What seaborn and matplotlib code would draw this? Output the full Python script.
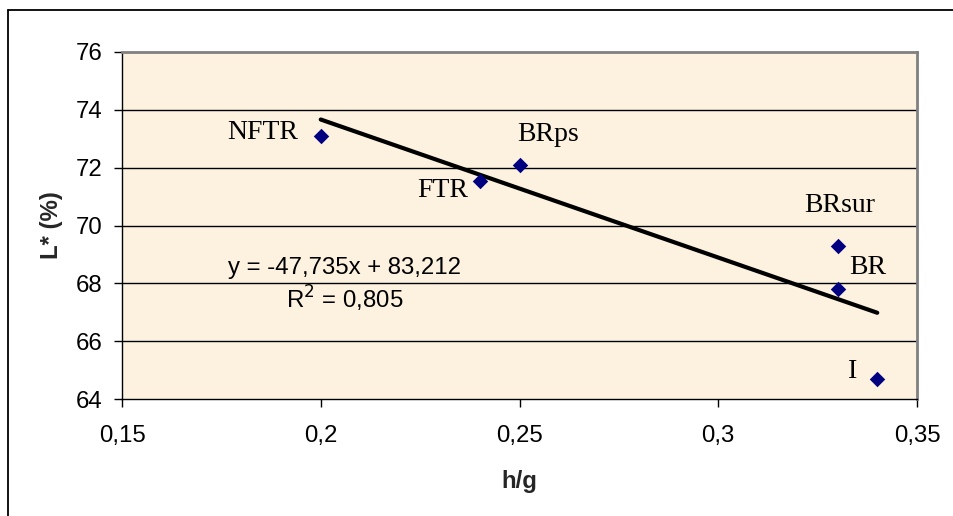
import matplotlib
matplotlib.use("Agg")
import matplotlib.pyplot as plt
from matplotlib.lines import Line2D
import numpy as np
import pandas as pd
import seaborn as sns

# Samples: hue/gray ratio vs lightness
samples = ["NFTR", "FTR", "BRps", "BRsur", "BR", "I"]
hg = [0.20, 0.24, 0.25, 0.33, 0.33, 0.34]
lightness = [73.1, 71.55, 72.1, 69.3, 67.8, 64.7]

# Linear trend (as reported on the chart)
slope = -47.735
intercept = 83.212
r2 = 0.805

x_ticks = [0.15, 0.20, 0.25, 0.30, 0.35]
x_tick_labels = ["0,15", "0,2", "0,25", "0,3", "0,35"]
y_ticks = [64, 66, 68, 70, 72, 74, 76]


def comma(v, nd=3):
    return f"{v:.{nd}f}".replace(".", ",")


df = pd.DataFrame({"sample": samples, "hg": hg, "L": lightness})

sns.set_theme(style="white")
plt.rcParams["font.family"] = ["Liberation Sans", "DejaVu Sans"]

fig = plt.figure(figsize=(9.54, 5.16), dpi=100)
ax = fig.add_axes([122 / 954, 1 - 399 / 516, (917 - 122) / 954, (399 - 52) / 516])
ax.set_facecolor("#FCF2DF")

# Outer chart frame
fig.add_artist(Line2D([8 / 954, 8 / 954], [0, 1 - 10 / 516], transform=fig.transFigure,
                      color="black", lw=1.3))
fig.add_artist(Line2D([8 / 954, 1], [1 - 10 / 516, 1 - 10 / 516], transform=fig.transFigure,
                      color="black", lw=1.3))

# Horizontal gridlines
for yv in y_ticks[1:-1]:
    ax.axhline(yv, color="black", lw=1.0, zorder=1)

# Trend line over the data range
xs = np.array([min(hg), max(hg)])
sns.lineplot(x=xs, y=slope * xs + intercept, ax=ax, color="black", lw=3.0, zorder=2)

# Sample points
sns.scatterplot(data=df, x="hg", y="L", ax=ax, marker="D", s=62, color="#000080",
                edgecolor="#000080", linewidth=0, zorder=3)

# Sample labels (offsets in pixels)
label_offsets = {
    "NFTR": (-23, -3, "right"),
    "FTR": (-12, -16, "right"),
    "BRps": (-2, 24, "left"),
    "BRsur": (-33, 34, "left"),
    "BR": (12, 15, "left"),
    "I": (-20, 1, "right"),
}
for s, xv, yv in zip(samples, hg, lightness):
    dx, dy, ha = label_offsets[s]
    ax.annotate(s, (xv, yv), xytext=(dx, dy), textcoords="offset pixels",
                ha=ha, va="baseline", fontsize=20,
                family=["Liberation Serif", "DejaVu Serif"], color="black", zorder=4)

# Regression equation
ax.text(345, 516 - 268, f"y = {comma(slope)}x + {comma(intercept)}",
        transform=None, ha="center", va="center", fontsize=17.3, color="black")
ax.text(345, 516 - 299, "R$^2$ = " + comma(r2),
        transform=None, ha="center", va="center", fontsize=17.3, color="black")

ax.set_xlim(0.15, 0.35)
ax.set_ylim(64, 76)
ax.set_xticks(x_ticks)
ax.set_xticklabels(x_tick_labels)
ax.set_yticks(y_ticks)
ax.set_yticklabels([str(v) for v in y_ticks])
ax.tick_params(axis="both", direction="out", length=6, width=1.0, color="black",
               labelsize=17.3, labelcolor="black", bottom=True, left=True)
ax.tick_params(axis="x", pad=13)
ax.tick_params(axis="y", pad=8)

ax.set_xlabel("h/g", fontsize=17.3, fontweight="bold", labelpad=16)
ax.set_ylabel("L* (%)", fontsize=17.3, fontweight="bold", labelpad=9)

for side in ["left", "bottom"]:
    ax.spines[side].set_color("black")
    ax.spines[side].set_linewidth(1.0)
for side in ["top", "right"]:
    ax.spines[side].set_visible(True)
    ax.spines[side].set_color("#808080")
    ax.spines[side].set_linewidth(2.0)

fig.savefig("out.png", dpi=100)
